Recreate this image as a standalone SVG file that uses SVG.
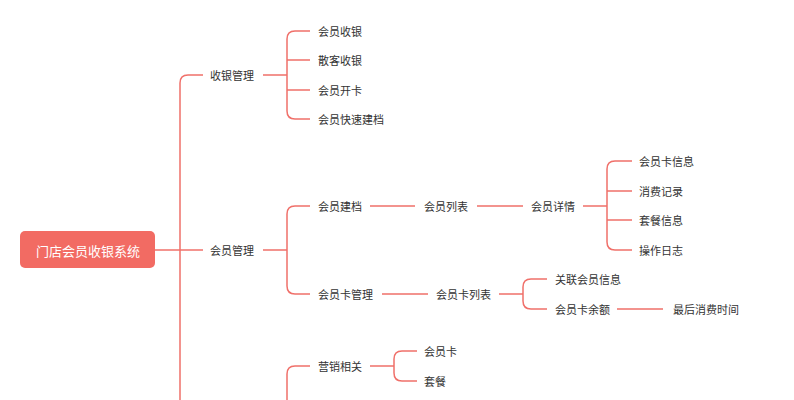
<svg xmlns="http://www.w3.org/2000/svg" width="794" height="400" viewBox="0 0 794 400">
<style>
.c{fill:none;stroke:#f0706a;stroke-width:1.5}
text{font-family:"Noto Sans CJK SC","Noto Sans",sans-serif;font-size:11px;fill:#333;dominant-baseline:central}
.r{fill:#fff;font-size:13px;text-anchor:middle}
</style>
<rect width="794" height="400" fill="#fff"/>
<g id="connectors">
<path class="c" d="M155 250H203"/>
<path class="c" d="M203 75H188Q180 75 180 83V400"/>
<path class="c" d="M263 75H287M310 31H295Q287 31 287 39V111Q287 119 295 119H310M287 60H310M287 90H310"/>
<path class="c" d="M263 250H287M310 206H295Q287 206 287 214V286Q287 294 295 294H310"/>
<path class="c" d="M310 366H295Q287 366 287 374V400"/>
<path class="c" d="M370 206H415M477 206H523M583 206H607M632 161H615Q607 161 607 169V242Q607 250 615 250H632M607 191H632M607 220H632"/>
<path class="c" d="M382 294H428M499 294H523M547 279H531Q523 279 523 287V301Q523 309 531 309H547M617 309H663"/>
<path class="c" d="M370 366H394M417 351H402Q394 351 394 359V373Q394 381 402 381H417"/>
</g>
<g id="root"><rect x="20" y="231" width="135" height="37" rx="5" fill="#f26b63"/><text class="r" x="88" y="250">门店会员收银系统</text></g>
<g id="n1"><text x="210" y="75">收银管理</text></g>
<g id="n1a"><text x="318" y="31">会员收银</text></g>
<g id="n1b"><text x="318" y="60">散客收银</text></g>
<g id="n1c"><text x="318" y="90">会员开卡</text></g>
<g id="n1d"><text x="318" y="119">会员快速建档</text></g>
<g id="n2"><text x="210" y="250">会员管理</text></g>
<g id="n2a"><text x="318" y="206">会员建档</text></g>
<g id="n2a1"><text x="424" y="206">会员列表</text></g>
<g id="n2a2"><text x="531" y="206">会员详情</text></g>
<g id="n2a3"><text x="639" y="161">会员卡信息</text></g>
<g id="n2a4"><text x="639" y="191">消费记录</text></g>
<g id="n2a5"><text x="639" y="220">套餐信息</text></g>
<g id="n2a6"><text x="639" y="250">操作日志</text></g>
<g id="n2b"><text x="318" y="294">会员卡管理</text></g>
<g id="n2b1"><text x="436" y="294">会员卡列表</text></g>
<g id="n2b2"><text x="555" y="279">关联会员信息</text></g>
<g id="n2b3"><text x="555" y="309">会员卡余额</text></g>
<g id="n2b4"><text x="673" y="309">最后消费时间</text></g>
<g id="n3"><text x="318" y="366">营销相关</text></g>
<g id="n3a"><text x="424" y="351">会员卡</text></g>
<g id="n3b"><text x="424" y="381">套餐</text></g>
</svg>
